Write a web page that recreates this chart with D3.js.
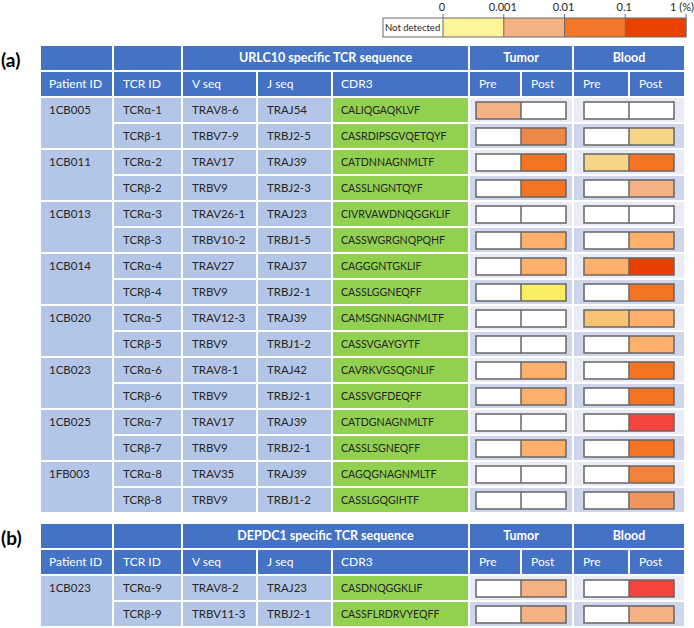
<!DOCTYPE html>
<html><head><meta charset="utf-8">
<script src="https://cdn.jsdelivr.net/npm/d3@7/dist/d3.min.js"></script>
<style>
html,body{margin:0;padding:0;background:#fff;}
svg{display:block;font-family:Lato,"Open Sans",sans-serif;}
</style></head>
<body><svg id="chart" width="694" height="628"></svg>
<script>
// ---------- DATA ----------
const legendTicks = ["0", "0.001", "0.01", "0.1", "1 (%)"];
const legendValues = [0, 0.001, 0.01, 0.1, 1];

// Table (a) URLC10
const patientsA = ["1CB005","1CB011","1CB013","1CB014","1CB020","1CB023","1CB025","1FB003"];
const tcrIdA = ["TCRα-1","TCRβ-1","TCRα-2","TCRβ-2","TCRα-3","TCRβ-3","TCRα-4","TCRβ-4",
                "TCRα-5","TCRβ-5","TCRα-6","TCRβ-6","TCRα-7","TCRβ-7","TCRα-8","TCRβ-8"];
const vSeqA = ["TRAV8-6","TRBV7-9","TRAV17","TRBV9","TRAV26-1","TRBV10-2","TRAV27","TRBV9",
               "TRAV12-3","TRBV9","TRAV8-1","TRBV9","TRAV17","TRBV9","TRAV35","TRBV9"];
const jSeqA = ["TRAJ54","TRBJ2-5","TRAJ39","TRBJ2-3","TRAJ23","TRBJ1-5","TRAJ37","TRBJ2-1",
               "TRAJ39","TRBJ1-2","TRAJ42","TRBJ2-1","TRAJ39","TRBJ2-1","TRAJ39","TRBJ1-2"];
const cdr3A = ["CALIQGAQKLVF","CASRDIPSGVQETQYF","CATDNNAGNMLTF","CASSLNGNTQYF","CIVRVAWDNQGGKLIF",
               "CASSWGRGNQPQHF","CAGGGNTGKLIF","CASSLGGNEQFF","CAMSGNNAGNMLTF","CASSVGAYGYTF",
               "CAVRKVGSQGNLIF","CASSVGFDEQFF","CATDGNAGNMLTF","CASSLSGNEQFF","CAGQGNAGNMLTF","CASSLGQGIHTF"];
// frequencies (%) — 0 = not detected
const tumorPreA  = [0.003,0,0,0,0,0,0,0,0,0,0,0,0,0,0,0];
const tumorPostA = [0,0.025,0.07,0.07,0,0.007,0.007,0.0003,0,0,0.007,0.007,0,0.007,0,0];
const bloodPreA  = [0,0,0.0007,0,0,0,0.007,0,0.0015,0,0,0,0,0,0,0];
const bloodPostA = [0,0.0007,0.07,0.003,0,0.007,0.2,0.07,0.007,0.007,0.07,0.07,0.5,0.07,0.04,0.015];

// Table (b) DEPDC1
const patientsB = ["1CB023"];
const tcrIdB = ["TCRα-9","TCRβ-9"];
const vSeqB = ["TRAV8-2","TRBV11-3"];
const jSeqB = ["TRAJ23","TRBJ2-1"];
const cdr3B = ["CASDNQGGKLIF","CASSFLRDRVYEQFF"];
const tumorPreB  = [0,0];
const tumorPostB = [0.003,0.003];
const bloodPreB  = [0,0];
const bloodPostB = [0.5,0.003];

// ---------- STYLE / SCALES ----------
const HEAD = "#4472c4", LIGHT = "#b4c6e7", GREEN = "#92d050";
const ROWBG = ["#e9ebf5", "#cfd5ea"];
const TXT = "#262626";

const cellColor = d3.scaleThreshold()
  .domain([1e-9, 0.0005, 0.001, 0.002, 0.005, 0.01, 0.02, 0.03, 0.05, 0.1, 0.3])
  .range(["#ffffff","#f9ee62","#f8d488","#f8c474","#f4b183","#fcb06c","#f0965c",
          "#ee8848","#f0823c","#f47424","#e84000","#f4443c"]);

const legendColor = d3.scaleThreshold()
  .domain([0.001, 0.01, 0.1])
  .range(["#fef59a","#f4b183","#f47628","#e94100"]);

const svg = d3.select("#chart");

// ---------- LEGEND ----------
const lx = d3.scaleLinear().domain([0, legendValues.length - 1]).range([443, 686]);
const legG = svg.append("g");
const LY = 18, LH = 19;
legG.append("rect").attr("x", 383).attr("y", LY).attr("width", lx(0) - 383).attr("height", LH)
  .attr("fill", "#fff");
legG.append("text").attr("x", 385).attr("y", LY + LH / 2).attr("dy", "0.35em")
  .attr("font-size", 9.5).attr("fill", TXT).text("Not detected");
const segs = d3.range(legendValues.length - 1);
legG.selectAll("rect.seg").data(segs).join("rect").attr("class", "seg")
  .attr("x", i => lx(i)).attr("y", LY).attr("width", i => lx(i + 1) - lx(i)).attr("height", LH)
  .attr("fill", i => legendColor((legendValues[i] + legendValues[i + 1]) / 2 || 0.0005));
legG.selectAll("line.sep").data(d3.range(legendValues.length)).join("line").attr("class", "sep")
  .attr("x1", i => lx(i)).attr("x2", i => lx(i)).attr("y1", LY - 4).attr("y2", LY + LH)
  .attr("stroke", "#6b6b6b").attr("stroke-width", 1);
legG.append("rect").attr("x", 383).attr("y", LY).attr("width", 686 - 383).attr("height", LH)
  .attr("fill", "none").attr("stroke", "#6b6b6b").attr("stroke-width", 1);
legG.selectAll("text.tick").data(legendTicks).join("text").attr("class", "tick")
  .attr("x", (d, i) => lx(i) - (i === legendTicks.length - 1 ? 4 : 1)).attr("y", 11)
  .attr("text-anchor", "middle").attr("font-size", 11).attr("fill", TXT).text(d => d);

// ---------- TABLE ----------
const X = [40, 113, 182, 257, 332, 469, 573, 685];
const TSPLIT = 521, BSPLIT = 629;
const RH = 26;

function rect(g, x0, x1, y0, y1, fill) {
  return g.append("rect").attr("x", x0 + 1).attr("y", y0 + 1)
    .attr("width", x1 - x0 - 2).attr("height", y1 - y0 - 2).attr("fill", fill);
}
function txt(g, x, y, s, opt = {}) {
  return g.append("text").attr("x", x).attr("y", y).attr("dy", "0.35em")
    .attr("font-size", opt.size || 12).attr("font-weight", opt.bold ? 700 : 400)
    .attr("fill", opt.fill || TXT).attr("text-anchor", opt.anchor || "start").text(s);
}

function drawTable(top, label, title, patients, tcr, vseq, jseq, cdr3, tPre, tPost, bPre, bPost) {
  const g = svg.append("g");
  const n = tcr.length;
  const h1 = top, h2 = top + RH, d0 = top + 2 * RH;
  const y = d3.scaleBand().domain(d3.range(n)).range([d0, d0 + n * RH]);

  // label
  txt(g, 1, h1 + RH / 2 + 2, label, { size: 19, bold: true, fill: "#000" });

  // header row 1
  rect(g, X[0], X[1], h1, h2, HEAD);
  rect(g, X[1], X[2], h1, h2, HEAD);
  rect(g, X[2], X[5], h1, h2, HEAD);
  rect(g, X[5], X[6], h1, h2, HEAD);
  rect(g, X[6], X[7], h1, h2, HEAD);
  txt(g, (X[2] + X[5]) / 2, h1 + RH / 2, title, { size: 12.5, bold: true, fill: "#fff", anchor: "middle" });
  txt(g, (X[5] + X[6]) / 2, h1 + RH / 2, "Tumor", { size: 12.5, bold: true, fill: "#fff", anchor: "middle" });
  txt(g, (X[6] + X[7]) / 2, h1 + RH / 2, "Blood", { size: 12.5, bold: true, fill: "#fff", anchor: "middle" });

  // header row 2
  const h2cells = [[X[0], X[1], "Patient ID", 9], [X[1], X[2], "TCR ID", 10], [X[2], X[3], "V seq", 10],
    [X[3], X[4], "J seq", 10], [X[4], X[5], "CDR3", 9], [X[5], TSPLIT, "Pre", 10], [TSPLIT, X[6], "Post", 10],
    [X[6], BSPLIT, "Pre", 10], [BSPLIT, X[7], "Post", 10]];
  h2cells.forEach(c => {
    rect(g, c[0], c[1], h2, d0, HEAD);
    txt(g, c[0] + c[3], h2 + RH / 2, c[2], { size: 12, fill: "#fff" });
  });

  // data rows
  patients.forEach((p, k) => {
    rect(g, X[0], X[1], y(2 * k), y(2 * k) + 2 * RH, LIGHT);
    txt(g, X[0] + 9, y(2 * k) + RH / 2, p, { size: 11.5 });
  });
  d3.range(n).forEach(i => {
    const y0 = y(i), y1 = y0 + RH, cy = y0 + RH / 2;
    rect(g, X[1], X[2], y0, y1, LIGHT); txt(g, X[1] + 10, cy, tcr[i], { size: 11.5 });
    rect(g, X[2], X[3], y0, y1, LIGHT); txt(g, X[2] + 10, cy, vseq[i], { size: 11.5 });
    rect(g, X[3], X[4], y0, y1, LIGHT); txt(g, X[3] + 10, cy, jseq[i], { size: 11.5 });
    rect(g, X[4], X[5], y0, y1, GREEN); txt(g, X[4] + 9, cy, cdr3[i], { size: 10.6 });
    rect(g, X[5], X[6], y0, y1, ROWBG[i % 2]);
    rect(g, X[6], X[7], y0, y1, ROWBG[i % 2]);
    // boxes
    const bw = 45, by = y0 + 5, bh = 17;
    [[TSPLIT, tPre[i], tPost[i]], [BSPLIT, bPre[i], bPost[i]]].forEach(b => {
      g.append("rect").attr("x", b[0] - bw).attr("y", by).attr("width", bw).attr("height", bh)
        .attr("fill", cellColor(b[1]));
      g.append("rect").attr("x", b[0]).attr("y", by).attr("width", bw).attr("height", bh)
        .attr("fill", cellColor(b[2]));
      g.append("rect").attr("x", b[0] - bw).attr("y", by).attr("width", 2 * bw).attr("height", bh)
        .attr("fill", "none").attr("stroke", "#666").attr("stroke-width", 1.5);
      g.append("line").attr("x1", b[0]).attr("x2", b[0]).attr("y1", by).attr("y2", by + bh)
        .attr("stroke", "#666").attr("stroke-width", 1.5);
    });
  });
}

drawTable(45, "(a)", "URLC10 specific TCR sequence", patientsA, tcrIdA, vSeqA, jSeqA, cdr3A,
  tumorPreA, tumorPostA, bloodPreA, bloodPostA);
drawTable(523, "(b)", "DEPDC1 specific TCR sequence", patientsB, tcrIdB, vSeqB, jSeqB, cdr3B,
  tumorPreB, tumorPostB, bloodPreB, bloodPostB);
</script></body></html>
